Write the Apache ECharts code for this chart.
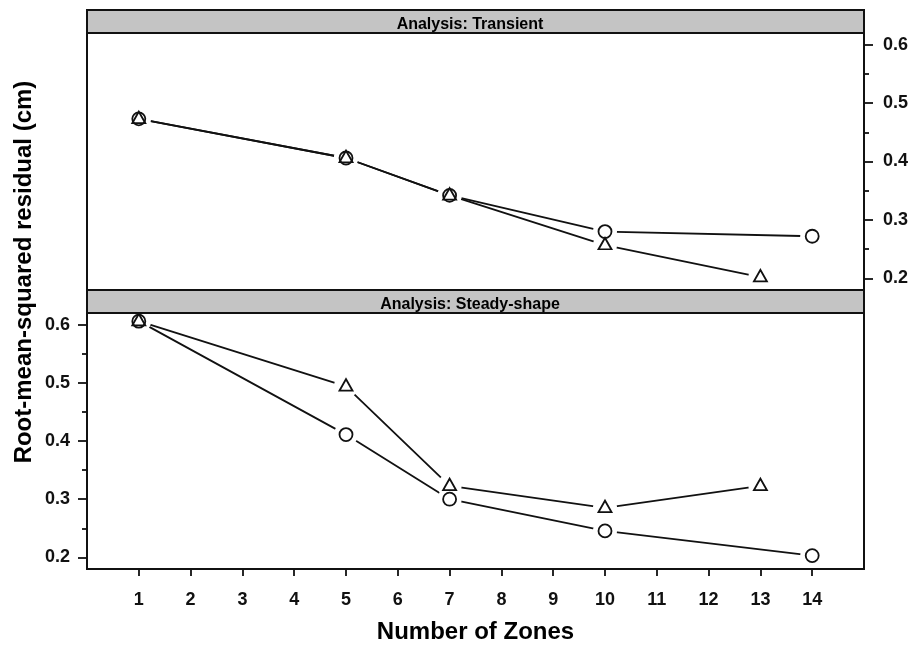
<!DOCTYPE html>
<html>
<head>
<meta charset="utf-8">
<title>Root-mean-squared residual by number of zones</title>
<script src="https://cdn.jsdelivr.net/npm/echarts@6/dist/echarts.min.js"></script>
<style>
  html, body { margin: 0; padding: 0; background: #ffffff; }
  #chart { width: 912px; height: 645px; }
</style>
</head>
<body>
<div id="chart"></div>
<script>
// Zone counts for each marker set
const zonesCircle = [1, 5, 7, 10, 14];
const zonesTriangle = [1, 5, 7, 10, 13];

// RMS residual (cm), transient analysis
const transientCircle = [0.473, 0.406, 0.342, 0.280, 0.272];
const transientTriangle = [0.473, 0.406, 0.342, 0.257, 0.202];

// RMS residual (cm), steady-shape analysis
const steadyCircle = [0.606, 0.411, 0.300, 0.2455, 0.203];
const steadyTriangle = [0.606, 0.494, 0.323, 0.285, 0.323];

// Tick positions
const xTicks = [1, 2, 3, 4, 5, 6, 7, 8, 9, 10, 11, 12, 13, 14];
const yTicks = [0.2, 0.3, 0.4, 0.5, 0.6];
const yMinorTicks = [0.25, 0.35, 0.45, 0.55];

const panelTitles = ['Analysis: Transient', 'Analysis: Steady-shape'];

const INK = '#111111';
const FONT = 'Liberation Sans, Arial, Helvetica, sans-serif';
const TICK_FONT_SIZE = 18;

const pairs = (xs, ys) => xs.map((x, i) => [x, ys[i]]);

const chart = echarts.init(document.getElementById('chart'), null, { renderer: 'canvas' });

// Panel boxes; the last two repeat the first two and only carry the minor ticks
const panelBoxes = [
  { left: 87, right: 48, top: 33, height: 257 },
  { left: 87, right: 48, top: 313, height: 256 }
];
const grids = [0, 1, 0, 1].map((p, i) => Object.assign({
  show: i < 2,
  borderColor: INK,
  borderWidth: 2,
  backgroundColor: 'transparent',
  containLabel: false,
  outerBoundsMode: 'none'
}, panelBoxes[p]));

const yRange = { min: 0.18, max: 0.62 };
const xRange = { min: 0, max: 15 };

function majorY(gridIndex, position, margin) {
  return Object.assign({
    type: 'value', gridIndex, position,
    axisLine: { show: false, onZero: false },
    splitLine: { show: false },
    axisTick: { show: true, length: 9, customValues: yTicks, lineStyle: { color: INK, width: 1.8 } },
    axisLabel: {
      show: true, customValues: yTicks, margin,
      formatter: v => Number(v).toFixed(1),
      fontFamily: FONT, fontWeight: 'bold', fontSize: TICK_FONT_SIZE, color: '#111'
    }
  }, yRange);
}

function minorY(gridIndex, position) {
  return Object.assign({
    type: 'value', gridIndex, position,
    axisLine: { show: false, onZero: false },
    splitLine: { show: false },
    axisTick: { show: true, length: 5, customValues: yMinorTicks, lineStyle: { color: INK, width: 1.8 } },
    axisLabel: { show: false }
  }, yRange);
}

// One panel = connecting lines, white gaps around points, then open markers
function panelSeries(gridIndex, circles, triangles) {
  const axes = { xAxisIndex: gridIndex, yAxisIndex: gridIndex };
  const lineStyle = { color: INK, width: 1.8 };
  const gap = { symbol: 'circle', symbolSize: 24, itemStyle: { color: '#ffffff', borderWidth: 0, opacity: 1 } };
  return [
    Object.assign({ type: 'line', z: 2, data: circles, showSymbol: false, lineStyle, silent: true }, axes),
    Object.assign({ type: 'line', z: 2, data: triangles, showSymbol: false, lineStyle, silent: true }, axes),
    Object.assign({ type: 'scatter', z: 3, data: circles, silent: true }, gap, axes),
    Object.assign({ type: 'scatter', z: 3, data: triangles, silent: true }, gap, axes),
    Object.assign({
      type: 'scatter', z: 4, data: circles, silent: true,
      symbol: 'circle', symbolSize: 13,
      itemStyle: { color: '#ffffff', borderColor: INK, borderWidth: 1.8, opacity: 1 }
    }, axes),
    Object.assign({
      type: 'scatter', z: 4, data: triangles, silent: true,
      symbol: 'triangle', symbolSize: [13, 11.5], symbolOffset: [0, -1.5],
      itemStyle: { color: 'transparent', borderColor: INK, borderWidth: 1.8, opacity: 1 }
    }, axes)
  ];
}

function strip(top, text) {
  return [
    {
      type: 'rect', z: 100,
      shape: { x: 87, y: top, width: 777, height: 23 },
      style: { fill: '#c4c4c4', stroke: INK, lineWidth: 2 }
    },
    {
      type: 'text', z: 101, x: 470, y: top + 14.5,
      style: {
        text, fill: '#000', font: 'bold 16px ' + FONT,
        textAlign: 'center', textVerticalAlign: 'middle'
      }
    }
  ];
}

const hiddenX = gridIndex => Object.assign({ type: 'value', gridIndex, show: false }, xRange);

const option = {
  animation: false,
  backgroundColor: '#ffffff',
  grid: grids,
  xAxis: [
    hiddenX(0),
    Object.assign({
      type: 'value', gridIndex: 1, position: 'bottom',
      axisLine: { show: false, onZero: false },
      splitLine: { show: false },
      axisTick: { show: true, length: 7, customValues: xTicks, lineStyle: { color: INK, width: 1.8 } },
      axisLabel: {
        show: true, customValues: xTicks, margin: 22,
        fontFamily: FONT, fontWeight: 'bold', fontSize: TICK_FONT_SIZE, color: '#111'
      },
      name: 'Number of Zones',
      nameLocation: 'middle',
      nameGap: 51,
      nameTextStyle: { fontFamily: FONT, fontWeight: 'bold', fontSize: 24, color: '#000' }
    }, xRange),
    hiddenX(2),
    hiddenX(3)
  ],
  yAxis: [
    majorY(0, 'right', 19),
    majorY(1, 'left', 17),
    minorY(2, 'right'),
    minorY(3, 'left')
  ],
  series: [
    ...panelSeries(0, pairs(zonesCircle, transientCircle), pairs(zonesTriangle, transientTriangle)),
    ...panelSeries(1, pairs(zonesCircle, steadyCircle), pairs(zonesTriangle, steadyTriangle))
  ],
  graphic: [
    ...strip(10, panelTitles[0]),
    ...strip(290, panelTitles[1]),
    {
      type: 'text', z: 101, x: 24, y: 272, rotation: Math.PI / 2,
      style: {
        text: 'Root-mean-squared residual (cm)', fill: '#000',
        font: 'bold 24px ' + FONT,
        textAlign: 'center', textVerticalAlign: 'middle'
      }
    }
  ]
};

chart.setOption(option);
</script>
</body>
</html>
